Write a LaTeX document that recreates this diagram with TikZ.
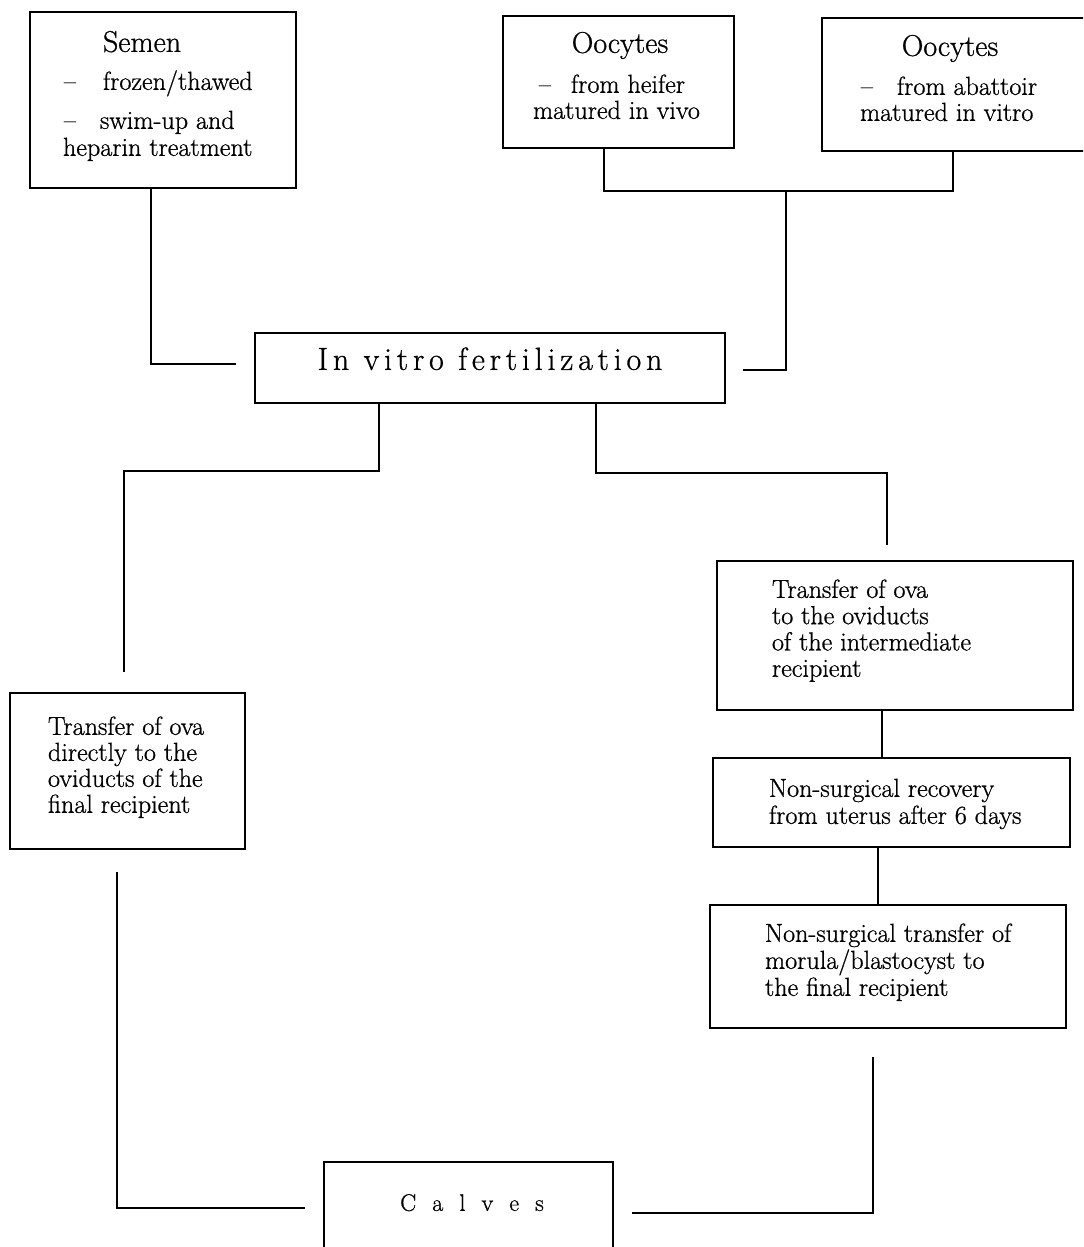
\documentclass[tikz,border=0pt]{standalone}
\usepackage{fontspec}
\setmainfont{Latin Modern Roman}[FakeBold=0.8]
\begin{document}
\begin{tikzpicture}[x=0.75pt,y=-0.75pt,
  box/.style={draw, line width=1.6pt, inner sep=0pt, outer sep=0pt, rectangle},
  conn/.style={line width=1.6pt},
  txt/.style={inner sep=0pt, outer sep=0pt, font=\fontsize{19.6}{21}\selectfont},
  ttl/.style={inner sep=0pt, outer sep=0pt, font=\fontsize{22.5}{24}\selectfont},
]
\newcommand\mkbox[5]{\node[box, minimum width={(#4-#2)*0.75pt}, minimum height={(#5-#3)*0.75pt}] (#1) at ({(#2+#4)/2},{(#3+#5)/2}) {};}
\newcommand\mklines[5]{\foreach \t [count=\i from 0] in {#5} \node[txt, anchor=mid west] (#1\i) at (#2, {#3+\i*#4}) {\t};}
\useasboundingbox (0,0) rectangle (1083,1247);
\fill[white] (0,0) rectangle (1083,1247);
\clip (0,0) rectangle (1083,1247);

% boxes
\mkbox{semen}{30}{12}{296}{188}
\mkbox{heifer}{503}{16}{734}{148}
\mkbox{abattoir}{822}{18}{1088}{151}
\mkbox{ivf}{255}{333}{725}{403}
\mkbox{ltrans}{10}{693}{245}{849}
\mkbox{rtrans}{717}{561}{1073}{710}
\mkbox{recov}{713}{758}{1070}{847}
\mkbox{nstrans}{710}{905}{1066}{1028}
\mkbox{calves}{324}{1162}{613}{1262}

% texts
\node[ttl, anchor=mid west] (tsem) at (103,49) {Semen};
\node[txt, anchor=mid west] (tsem1) at (64,87) {\makebox[29.25pt][l]{--}frozen/thawed};
\node[txt, anchor=mid west] (tsem2) at (64,126) {\makebox[27pt][l]{--}swim-up and};
\node[txt, anchor=mid west] (tsem3) at (63,153) {heparin treatment};

\node[ttl, anchor=mid] (thei) at (620,50) {Oocytes};
\node[txt, anchor=mid west] (thei1) at (539,90) {\makebox[24pt][l]{--}from heifer};
\node[txt, anchor=mid west] (thei2) at (533,116) {matured in vivo};

\node[ttl, anchor=mid] (tab) at (950,53) {Oocytes};
\node[txt, anchor=mid west] (tab1) at (861,92) {\makebox[27pt][l]{--}from abattoir};
\node[txt, anchor=mid west] (tab2) at (860,118) {matured in vitro};

\node[inner sep=0pt, anchor=mid, font=\fontsize{24}{26}\selectfont\addfontfeature{LetterSpace=15}] (tivf) at (490,367) {In vitro fertilization};

\mklines{tl}{48}{732}{26}{Transfer of ova,directly to the,oviducts of the,final recipient}
\mklines{tr}{772}{595}{26.3}{Transfer of ova,to the oviducts,of the intermediate,recipient}
\mklines{tc}{769}{794}{27}{Non-surgical recovery,from uterus after 6 days}
\mklines{tn}{765}{939}{27}{Non-surgical transfer of,morula/blastocyst to,the final recipient}

\node[inner sep=0pt, anchor=mid, font=\fontsize{18}{20}\selectfont\addfontfeature{LetterSpace=37}] (tcal) at (472,1208) {C a l v e s};

% connectors
\coordinate (sA) at (151,364);
\coordinate (sB) at (236,364);
\draw[conn] (semen.south -| sA) -- (sA) -- (sB);

\coordinate (oA) at (604,191);
\coordinate (oB) at (953,191);
\coordinate (oC) at (786,191);
\coordinate (oD) at (786,370);
\coordinate (oE) at (743,370);
\draw[conn] (heifer.south -| oA) -- (oA) -- (oB) -- (abattoir.south -| oB);
\draw[conn] (oC) -- (oD) -- (oE);

\coordinate (lA) at (379,471);
\coordinate (lB) at (124,471);
\coordinate (lC) at (124,672);
\draw[conn] (ivf.south -| lA) -- (lA) -- (lB) -- (lC);

\coordinate (rA) at (596,473);
\coordinate (rB) at (887,473);
\coordinate (rC) at (887,545);
\draw[conn] (ivf.south -| rA) -- (rA) -- (rB) -- (rC);

\coordinate (mA) at (882,0);
\draw[conn] (rtrans.south -| mA) -- (recov.north -| mA);
\coordinate (mB) at (878,0);
\draw[conn] (recov.south -| mB) -- (nstrans.north -| mB);

\coordinate (nA) at (873,1057);
\coordinate (nB) at (873,1213);
\coordinate (nC) at (632,1213);
\draw[conn] (nA) -- (nB) -- (nC);

\coordinate (qA) at (117,872);
\coordinate (qB) at (117,1208);
\coordinate (qC) at (305,1208);
\draw[conn] (qA) -- (qB) -- (qC);
\end{tikzpicture}
\end{document}
